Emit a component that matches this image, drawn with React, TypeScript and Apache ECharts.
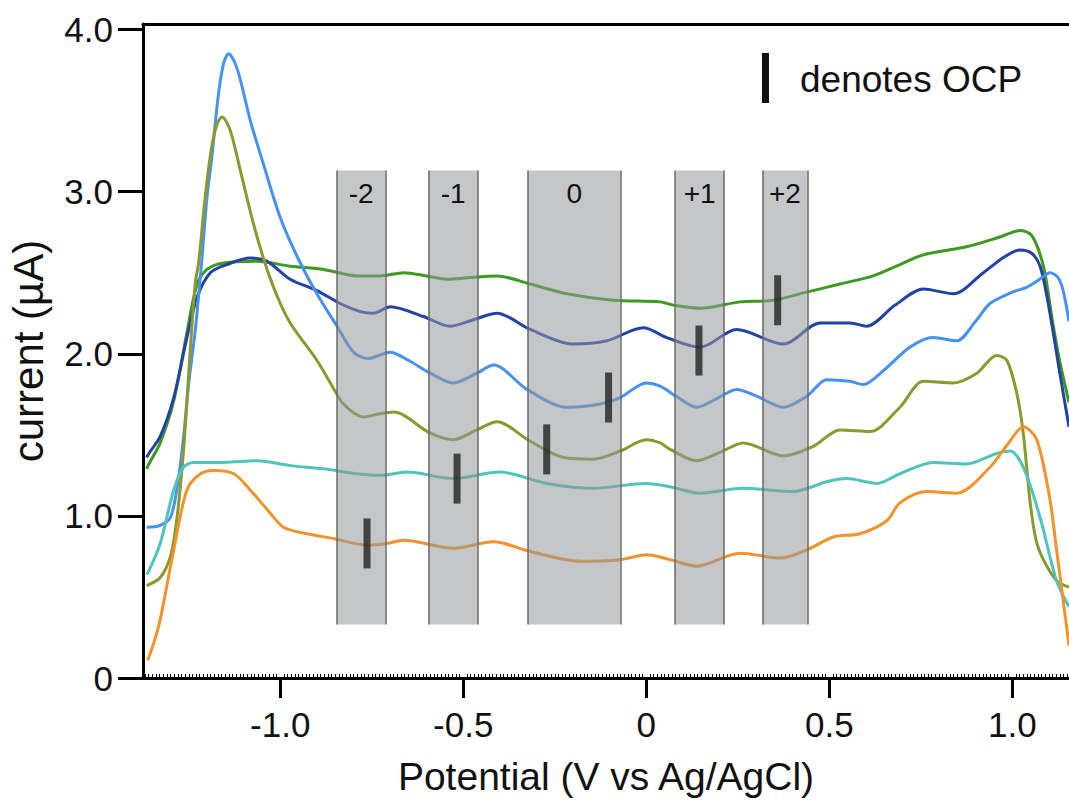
import React, { useEffect, useRef } from "react";
import * as echarts from "echarts";

const FONT = "'Liberation Sans', Arial, Helvetica, sans-serif";

// Axis ticks
const xTicks = [-1.0, -0.5, 0, 0.5, 1.0];
const yTicks = [0, 1, 2, 3, 4];
const xMin = -1.375;
const xMax = 1.155;
const yMin = 0;
const yMax = 4.034;

// Series values: [potential (V), current (µA)]
const lightBlue = [
  [-1.365, 0.93], [-1.33, 0.94], [-1.3, 0.99], [-1.28, 1.2], [-1.264, 1.49], [-1.25, 1.82],
  [-1.232, 2.15], [-1.215, 2.56], [-1.2, 2.97], [-1.187, 3.21], [-1.17, 3.58], [-1.155, 3.79],
  [-1.141, 3.85], [-1.125, 3.8], [-1.109, 3.69], [-1.082, 3.44], [-1.046, 3.17], [-1.0, 2.84],
  [-0.954, 2.6], [-0.9, 2.37], [-0.845, 2.17], [-0.8, 2.01], [-0.76, 1.97], [-0.7, 2.01],
  [-0.65, 1.96], [-0.59, 1.88], [-0.527, 1.82], [-0.463, 1.88], [-0.417, 1.93], [-0.326, 1.78],
  [-0.217, 1.67], [-0.126, 1.69], [-0.071, 1.73], [0.0, 1.82], [0.038, 1.8], [0.08, 1.74],
  [0.138, 1.67], [0.19, 1.72], [0.247, 1.78], [0.3, 1.74], [0.375, 1.67], [0.44, 1.74],
  [0.493, 1.84], [0.556, 1.83], [0.593, 1.81], [0.65, 1.9], [0.72, 2.04], [0.784, 2.1],
  [0.848, 2.08], [0.9, 2.2], [0.939, 2.31], [1.0, 2.38], [1.039, 2.41], [1.075, 2.46],
  [1.103, 2.5], [1.125, 2.47], [1.139, 2.39], [1.155, 2.2],
];

const darkBlue = [
  [-1.365, 1.36], [-1.359, 1.385], [-1.328, 1.49], [-1.291, 1.73], [-1.255, 2.1], [-1.227, 2.35],
  [-1.191, 2.5], [-1.146, 2.55], [-1.082, 2.59], [-1.036, 2.57], [-0.973, 2.46], [-0.9, 2.39],
  [-0.836, 2.31], [-0.781, 2.26], [-0.745, 2.25], [-0.7, 2.29], [-0.609, 2.23], [-0.536, 2.17],
  [-0.472, 2.21], [-0.408, 2.25], [-0.317, 2.15], [-0.199, 2.06], [-0.108, 2.08], [-0.008, 2.16],
  [0.056, 2.1], [0.147, 2.04], [0.247, 2.15], [0.375, 2.06], [0.475, 2.19], [0.557, 2.19],
  [0.602, 2.17], [0.68, 2.3], [0.757, 2.4], [0.839, 2.37], [0.921, 2.5], [0.98, 2.6],
  [1.021, 2.64], [1.053, 2.62], [1.076, 2.54], [1.095, 2.35], [1.112, 2.13], [1.13, 1.88],
  [1.155, 1.55],
];

const green = [
  [-1.365, 1.29], [-1.359, 1.32], [-1.328, 1.45], [-1.291, 1.71], [-1.255, 2.13], [-1.227, 2.43],
  [-1.2, 2.52], [-1.155, 2.56], [-1.064, 2.57], [-0.973, 2.54], [-0.882, 2.52], [-0.79, 2.48],
  [-0.727, 2.48], [-0.663, 2.5], [-0.6, 2.48], [-0.545, 2.46], [-0.481, 2.47], [-0.408, 2.48],
  [-0.317, 2.43], [-0.217, 2.37], [-0.09, 2.33], [0.038, 2.32], [0.074, 2.3], [0.147, 2.28],
  [0.256, 2.32], [0.347, 2.33], [0.438, 2.38], [0.529, 2.43], [0.62, 2.48], [0.693, 2.55],
  [0.757, 2.61], [0.875, 2.66], [0.966, 2.72], [1.021, 2.76], [1.053, 2.73], [1.085, 2.54],
  [1.11, 2.2], [1.13, 1.95], [1.155, 1.7],
];

const olive = [
  [-1.365, 0.57], [-1.328, 0.62], [-1.3, 0.75], [-1.282, 0.99], [-1.264, 1.41], [-1.246, 2.02],
  [-1.232, 2.44], [-1.223, 2.56], [-1.205, 2.97], [-1.187, 3.28], [-1.172, 3.42], [-1.159, 3.46],
  [-1.137, 3.38], [-1.109, 3.13], [-1.073, 2.8], [-1.036, 2.52], [-1.0, 2.31], [-0.973, 2.19],
  [-0.945, 2.1], [-0.9, 1.96], [-0.863, 1.82], [-0.827, 1.69], [-0.772, 1.61], [-0.727, 1.63],
  [-0.69, 1.64], [-0.59, 1.51], [-0.527, 1.47], [-0.463, 1.53], [-0.408, 1.58], [-0.317, 1.46],
  [-0.226, 1.36], [-0.144, 1.35], [-0.071, 1.4], [0.0, 1.47], [0.038, 1.45], [0.065, 1.41],
  [0.138, 1.34], [0.2, 1.39], [0.265, 1.45], [0.375, 1.37], [0.457, 1.43], [0.529, 1.53],
  [0.611, 1.52], [0.693, 1.67], [0.757, 1.83], [0.839, 1.82], [0.903, 1.88], [0.957, 1.99],
  [0.985, 1.96], [1.012, 1.76], [1.03, 1.51], [1.048, 1.1], [1.065, 0.85], [1.085, 0.73],
  [1.121, 0.6], [1.155, 0.56],
];

const cyan = [
  [-1.365, 0.64], [-1.359, 0.66], [-1.328, 0.83], [-1.291, 1.16], [-1.264, 1.3], [-1.237, 1.33],
  [-1.155, 1.33], [-1.064, 1.34], [-0.973, 1.31], [-0.882, 1.29], [-0.79, 1.26], [-0.727, 1.25],
  [-0.654, 1.27], [-0.527, 1.23], [-0.4, 1.27], [-0.272, 1.2], [-0.144, 1.17], [0.0, 1.2],
  [0.065, 1.18], [0.147, 1.14], [0.265, 1.17], [0.402, 1.15], [0.493, 1.21], [0.548, 1.23],
  [0.63, 1.2], [0.693, 1.26], [0.784, 1.33], [0.875, 1.32], [0.957, 1.385], [0.994, 1.4],
  [1.03, 1.3], [1.076, 0.99], [1.121, 0.6], [1.155, 0.44],
];

const orange = [
  [-1.362, 0.11], [-1.345, 0.22], [-1.328, 0.36], [-1.291, 0.79], [-1.255, 1.16], [-1.218, 1.26],
  [-1.182, 1.28], [-1.127, 1.26], [-1.082, 1.16], [-1.036, 1.04], [-0.991, 0.93], [-0.927, 0.89],
  [-0.854, 0.86], [-0.763, 0.82], [-0.709, 0.83], [-0.663, 0.85], [-0.527, 0.8], [-0.417, 0.84],
  [-0.317, 0.78], [-0.181, 0.72], [-0.071, 0.73], [0.0, 0.76], [0.065, 0.73], [0.138, 0.69],
  [0.256, 0.77], [0.366, 0.74], [0.438, 0.79], [0.511, 0.87], [0.584, 0.89], [0.657, 0.97],
  [0.693, 1.08], [0.766, 1.15], [0.848, 1.14], [0.939, 1.3], [0.99, 1.45], [1.03, 1.55],
  [1.067, 1.47], [1.103, 1.1], [1.121, 0.79], [1.139, 0.48], [1.155, 0.2],
];

const curves = [
  { name: "green", data: green, color: "#3c9a1e" },
  { name: "darkBlue", data: darkBlue, color: "#2342a6" },
  { name: "lightBlue", data: lightBlue, color: "#4692f2" },
  { name: "olive", data: olive, color: "#8a9a2c" },
  { name: "cyan", data: cyan, color: "#4fc4bd" },
  { name: "orange", data: orange, color: "#f3922a" },
];

// Shaded potential windows
const bandLabels = ["-2", "-1", "0", "+1", "+2"];
const bandStart = [-0.845, -0.595, -0.323, 0.079, 0.317];
const bandEnd = [-0.713, -0.46, -0.071, 0.213, 0.441];
const bandLow = 0.33;
const bandHigh = 3.13;

// Open-circuit potential markers
const ocpPotential = [-0.763, -0.517, -0.272, -0.103, 0.144, 0.359];
const ocpCurrent = [0.83, 1.23, 1.41, 1.73, 2.02, 2.33];

const fmt = (v: number) => (v === 0 ? "0" : v.toFixed(1));

export default function App() {
  const ref = useRef<HTMLDivElement>(null);

  useEffect(() => {
    if (!ref.current) return;
    const chart = echarts.init(ref.current, undefined, { renderer: "svg" });

    const bandAreas = bandLabels.map((label, i) => [
      { name: label, coord: [bandStart[i], bandHigh] },
      { coord: [bandEnd[i], bandLow] },
    ]);
    const bandEdges: any[] = [];
    bandLabels.forEach((_, i) => {
      [bandStart[i], bandEnd[i]].forEach((x) => {
        bandEdges.push([{ coord: [x, bandLow] }, { coord: [x, bandHigh] }]);
      });
    });

    const option: any = {
      animation: false,
      grid: {
        left: 143,
        right: 0,
        top: 24,
        bottom: 123,
        containLabel: false,
        outerBoundsMode: "none",
      },
      xAxis: [
        {
          type: "value",
          min: xMin,
          max: xMax,
          position: "bottom",
          axisLine: { show: true, onZero: false, lineStyle: { color: "#000", width: 3 } },
          axisTick: { show: true, length: 20, customValues: xTicks, lineStyle: { color: "#000", width: 3 } },
          axisLabel: {
            show: true,
            customValues: xTicks,
            formatter: fmt,
            fontSize: 35,
            color: "#111",
            fontFamily: FONT,
            margin: 29,
          },
          splitLine: { show: false },
          name: "Potential (V vs Ag/AgCl)",
          nameLocation: "middle",
          nameGap: 79,
          nameTextStyle: { fontSize: 39, color: "#111", fontFamily: FONT },
        },
        {
          type: "value",
          min: xMin,
          max: xMax,
          position: "bottom",
          axisLine: { show: false, onZero: false },
          axisTick: { show: false, inside: true },
          axisLabel: { show: false },
          minorTick: { show: true, splitNumber: 50, length: 4, lineStyle: { color: "#000", width: 1 } },
          splitLine: { show: false },
        },
        {
          type: "value",
          min: xMin,
          max: xMax,
          position: "top",
          axisLine: { show: true, onZero: false, lineStyle: { color: "#000", width: 3 } },
          axisTick: { show: false },
          axisLabel: { show: false },
          splitLine: { show: false },
        },
      ],
      yAxis: {
        type: "value",
        min: yMin,
        max: yMax,
        axisLine: { show: true, onZero: false, lineStyle: { color: "#000", width: 3 } },
        axisTick: { show: true, length: 25, customValues: yTicks, lineStyle: { color: "#000", width: 3 } },
        axisLabel: {
          show: true,
          customValues: yTicks,
          formatter: fmt,
          fontSize: 35,
          color: "#111",
          fontFamily: FONT,
          margin: 30,
        },
        splitLine: { show: false },
        name: "current (µA)",
        nameLocation: "middle",
        nameGap: 94,
        nameTextStyle: { fontSize: 42, color: "#111", fontFamily: FONT },
      },
      series: [
        ...curves.map((c) => ({
          type: "line",
          name: c.name,
          data: c.data,
          xAxisIndex: 0,
          yAxisIndex: 0,
          showSymbol: false,
          smooth: 0.3,
          clip: true,
          z: 2,
          lineStyle: { color: c.color, width: 3 },
          itemStyle: { color: c.color },
        })),
        {
          type: "line",
          name: "bands",
          data: [],
          xAxisIndex: 0,
          yAxisIndex: 0,
          z: 4,
          markArea: {
            silent: true,
            z: 4,
            itemStyle: { color: "rgba(148,151,155,0.55)" },
            label: {
              show: true,
              position: "insideTop",
              distance: 9,
              fontSize: 28,
              color: "#111",
              fontFamily: FONT,
            },
            data: bandAreas,
          },
          markLine: {
            silent: true,
            z: 5,
            symbol: ["none", "none"],
            label: { show: false },
            lineStyle: { color: "#6a6a6a", width: 1.5, type: "solid" },
            data: bandEdges,
          },
        },
        {
          type: "scatter",
          name: "OCP",
          data: ocpPotential.map((x, i) => [x, ocpCurrent[i]]),
          xAxisIndex: 0,
          yAxisIndex: 0,
          symbol: "rect",
          symbolSize: [7, 50],
          itemStyle: { color: "#222" },
          z: 10,
        },
      ],
      graphic: [
        {
          type: "rect",
          shape: { x: 762, y: 53, width: 7, height: 50 },
          style: { fill: "#111" },
        },
        {
          type: "text",
          x: 800,
          y: 79,
          style: {
            text: "denotes OCP",
            fontSize: 37,
            fontFamily: FONT,
            fill: "#111",
            verticalAlign: "middle",
          },
        },
      ],
    };

    chart.setOption(option);
    return () => chart.dispose();
  }, []);

  return (
    <div
      ref={ref}
      style={{ position: "fixed", left: 0, top: 0, width: 1069, height: 801, background: "#fff" }}
    />
  );
}
